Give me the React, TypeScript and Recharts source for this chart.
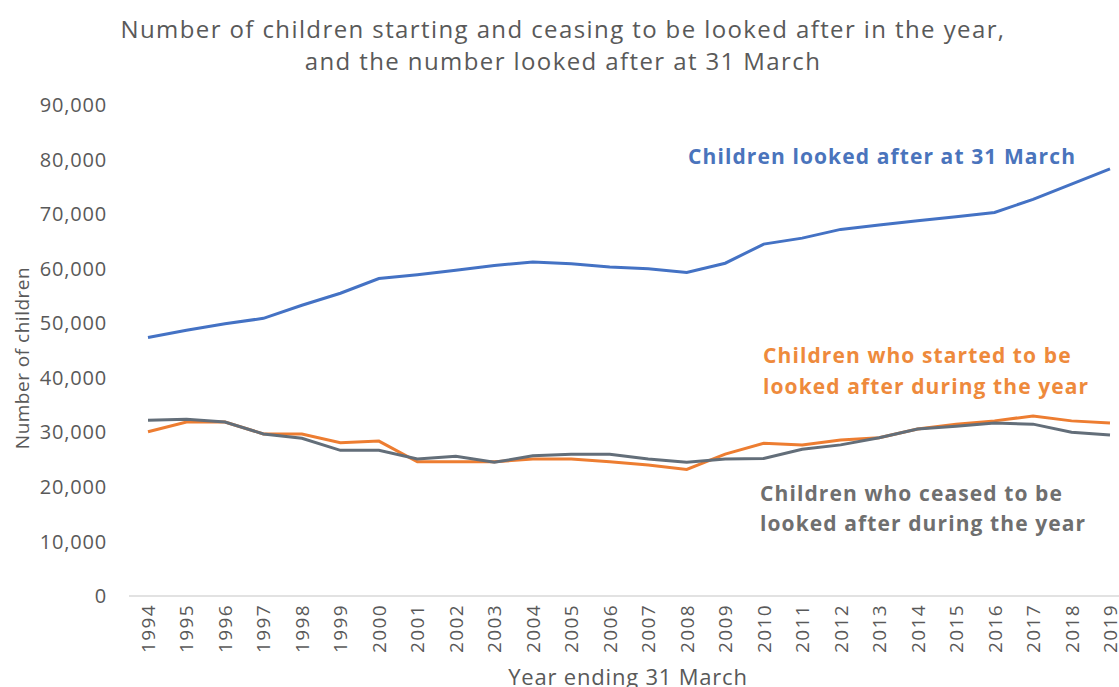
import React from 'react';
import { LineChart, Line, XAxis, YAxis } from 'recharts';

const years = [
  '1994', '1995', '1996', '1997', '1998', '1999', '2000', '2001', '2002', '2003', '2004', '2005', '2006',
  '2007', '2008', '2009', '2010', '2011', '2012', '2013', '2014', '2015', '2016', '2017', '2018', '2019',
];

// children looked after at 31 March
const lookedAfter = [
  47400, 48700, 49900, 50900, 53300, 55500, 58200, 58900, 59700, 60600, 61200, 60900, 60300,
  60000, 59300, 61000, 64500, 65600, 67200, 68000, 68800, 69500, 70300, 72700, 75500, 78300,
];

// children who started to be looked after during the year
const started = [
  30100, 31900, 31900, 29700, 29700, 28100, 28400, 24600, 24600, 24600, 25100, 25100, 24600,
  24000, 23200, 26000, 28000, 27700, 28600, 29000, 30600, 31500, 32100, 33000, 32100, 31700,
];

// children who ceased to be looked after during the year
const ceased = [
  32200, 32400, 31900, 29700, 28900, 26700, 26700, 25100, 25600, 24500, 25700, 26000, 26000,
  25100, 24500, 25100, 25200, 26900, 27700, 29000, 30600, 31100, 31700, 31500, 30000, 29500,
];

const yTicks = [0, 10000, 20000, 30000, 40000, 50000, 60000, 70000, 80000, 90000];

const data = years.map((year, i) => ({
  year,
  lookedAfter: lookedAfter[i],
  started: started[i],
  ceased: ceased[i],
}));

const FONT = '"Open Sans", sans-serif';
const TEXT_GREY = '#595959';

const YearTick = (props: any) => {
  const { x, y, payload } = props;
  return (
    <text
      x={x}
      y={y}
      transform={`rotate(-90 ${x} ${y})`}
      textAnchor="end"
      dominantBaseline="central"
      fill={TEXT_GREY}
      fontSize={19}
      letterSpacing={1.4}
      fontFamily={FONT}
    >
      {payload.value}
    </text>
  );
};

const annotation: React.CSSProperties = {
  position: 'absolute',
  fontSize: 21,
  fontWeight: 700,
  letterSpacing: 1.1,
  whiteSpace: 'nowrap',
};

export default function App() {
  return (
    <div
      style={{
        position: 'absolute',
        left: 0,
        top: 0,
        width: 1119,
        height: 687,
        overflow: 'hidden',
        background: '#fff',
        fontFamily: FONT,
      }}
    >
      <div
        style={{
          position: 'absolute',
          left: 0,
          top: 13,
          width: 1126,
          textAlign: 'center',
          fontSize: 24,
          letterSpacing: 1.4,
          lineHeight: '32px',
          color: TEXT_GREY,
        }}
      >
        Number of children starting and ceasing to be looked after in the year,
        <br />
        and the number looked after at 31 March
      </div>

      <LineChart width={1140} height={687} data={data} margin={{ top: 105, right: 11, bottom: 0, left: 0 }}>
        <XAxis
          dataKey="year"
          height={91}
          interval={0}
          padding={{ left: 19, right: 19 }}
          tickLine={false}
          axisLine={{ stroke: '#d9d9d9', strokeWidth: 1.5 }}
          tick={<YearTick />}
        />
        <YAxis
          width={129}
          domain={[0, 90000]}
          ticks={yTicks}
          axisLine={false}
          tickLine={false}
          tickMargin={16}
          tickFormatter={(v: number) => v.toLocaleString('en-US')}
          tick={{ fill: TEXT_GREY, fontSize: 20, fontFamily: FONT, letterSpacing: 0.8 }}
        />
        <Line
          dataKey="lookedAfter"
          stroke="#4472c4"
          strokeWidth={3}
          dot={false}
          type="linear"
          isAnimationActive={false}
        />
        <Line
          dataKey="started"
          stroke="#ed7d31"
          strokeWidth={3}
          dot={false}
          type="linear"
          isAnimationActive={false}
        />
        <Line
          dataKey="ceased"
          stroke="#636e79"
          strokeWidth={3}
          dot={false}
          type="linear"
          isAnimationActive={false}
        />
      </LineChart>

      <div
        style={{
          position: 'absolute',
          left: 22,
          top: 358,
          transform: 'translate(-50%, -50%) rotate(-90deg)',
          whiteSpace: 'nowrap',
          fontSize: 19,
          letterSpacing: 0.5,
          color: TEXT_GREY,
        }}
      >
        Number of children
      </div>
      <div
        style={{
          position: 'absolute',
          left: 628,
          top: 676,
          transform: 'translate(-50%, -50%)',
          whiteSpace: 'nowrap',
          fontSize: 22,
          letterSpacing: 0.8,
          color: TEXT_GREY,
        }}
      >
        Year ending 31 March
      </div>

      <div style={{ ...annotation, left: 688, top: 141, lineHeight: '30px', color: '#4a74bc' }}>
        Children looked after at 31 March
      </div>
      <div style={{ ...annotation, left: 763, top: 340, lineHeight: '31px', color: '#ee8a3c' }}>
        Children who started to be
        <br />
        looked after during the year
      </div>
      <div style={{ ...annotation, left: 760, top: 478, lineHeight: '30px', color: '#6f6f6f' }}>
        Children who ceased to be
        <br />
        looked after during the year
      </div>
    </div>
  );
}
